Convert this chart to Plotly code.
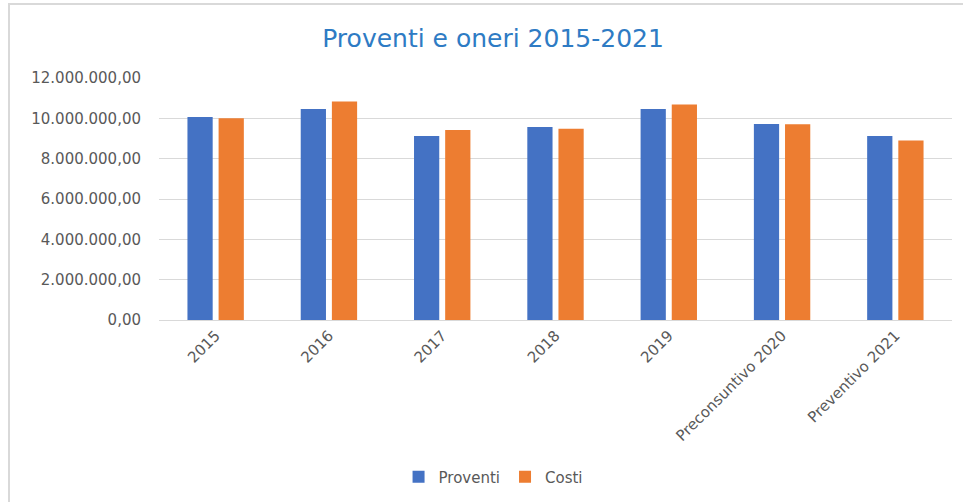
import plotly.graph_objects as go

categories = ["2015", "2016", "2017", "2018", "2019", "Preconsuntivo 2020", "Preventivo 2021"]
proventi = [10060000, 10460000, 9120000, 9570000, 10460000, 9720000, 9120000]
costi = [10000000, 10840000, 9420000, 9480000, 10690000, 9710000, 8900000]
y_ticks = [0, 2000000, 4000000, 6000000, 8000000, 10000000, 12000000]

W, H = 963, 502
ml, mr, mt, mb = 159, 11, 78, 182
pw = W - ml - mr
ph = H - mt - mb

fig = go.Figure()
fig.add_trace(go.Bar(name="Proventi", x=categories, y=proventi, marker_color="#4472C4",
                     marker_line_width=0))
fig.add_trace(go.Bar(name="Costi", x=categories, y=costi, marker_color="#ED7D31",
                     marker_line_width=0))

font_family = "'DejaVu Sans', sans-serif"
fig.update_layout(
    width=W, height=H,
    margin=dict(l=ml, r=mr, t=mt, b=mb),
    paper_bgcolor="white", plot_bgcolor="white",
    separators=",.",
    barmode="group", bargap=0.45, bargroupgap=0.19,
    font=dict(family=font_family, color="#595959", size=14),
    title=dict(text="Proventi e oneri 2015-2021", xref="container", x=0.512, xanchor="center",
               yref="container", y=1 - 38 / H, yanchor="middle",
               font=dict(size=25, color="#2E7BC4", family=font_family)),
    legend=dict(orientation="h", xref="container", x=0.512, xanchor="center",
                yref="container", y=1 - 477 / H, yanchor="middle",
                font=dict(size=15, color="#595959"), itemwidth=30),
    xaxis=dict(tickangle=-45, showgrid=False, showline=True, linecolor="#D9D9D9",
               linewidth=1, ticks="", tickfont=dict(size=15, color="#595959")),
    yaxis=dict(range=[0, 12000000], tickvals=y_ticks, tickformat=",.2f",
               showgrid=True, gridcolor="#D9D9D9", gridwidth=1, zeroline=False,
               showline=False, ticks="", ticklabelstandoff=17,
               tickfont=dict(size=15, color="#595959")),
)

# chart frame lines (top and left), as in the reference
fig.add_shape(type="line", xref="paper", yref="paper",
              x0=(8 - ml) / pw, x1=(W - ml) / pw, y0=1 + (mt - 4) / ph, y1=1 + (mt - 4) / ph,
              line=dict(color="#D9D9D9", width=2))
fig.add_shape(type="line", xref="paper", yref="paper",
              x0=(9 - ml) / pw, x1=(9 - ml) / pw, y0=1 + (mt - 4) / ph, y1=-(mb) / ph,
              line=dict(color="#D9D9D9", width=2))

fig.write_html("out.html", config={"displayModeBar": False},
               post_script="document.body.style.margin='0';document.body.style.overflow='hidden';")
